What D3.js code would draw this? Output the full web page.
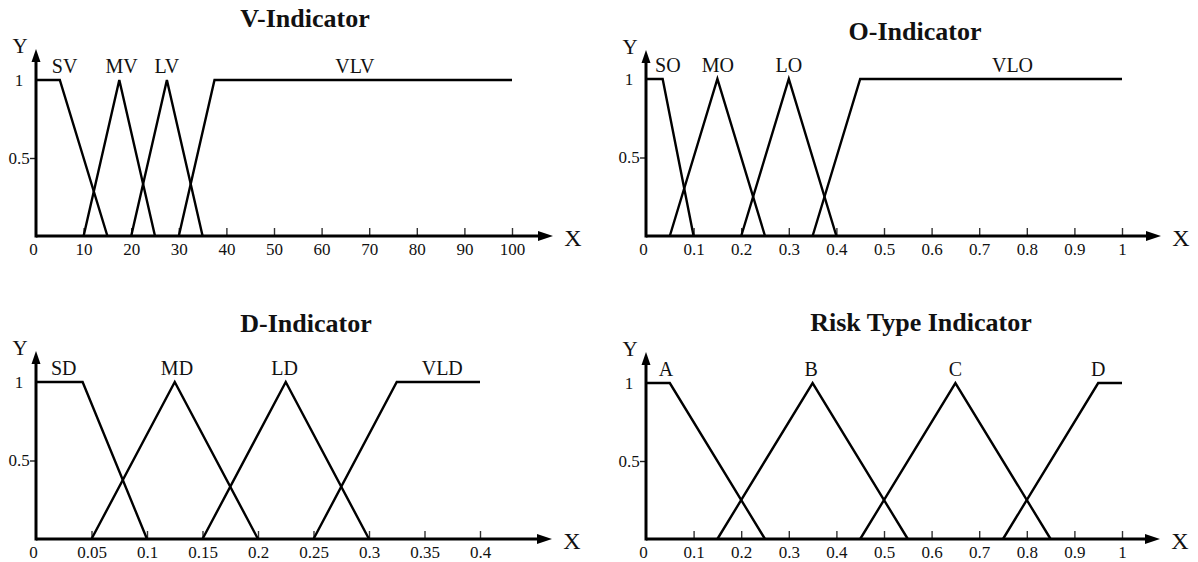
<!DOCTYPE html>
<html>
<head>
<meta charset="utf-8">
<script src="https://cdn.jsdelivr.net/npm/d3@7"></script>
<style>
  body { margin: 0; background: #fff; }
  text { font-family: "Liberation Serif", "Times New Roman", serif; fill: #111; }
</style>
</head>
<body>
<div id="chart"></div>
<script>
// membership functions
var vTicks = [0, 10, 20, 30, 40, 50, 60, 70, 80, 90, 100];
var vNames = ["SV", "MV", "LV", "VLV"];
var vX = [[0, 5, 15], [10, 17.5, 25], [20, 27.5, 35], [30, 37.5, 100]];
var vY = [[1, 1, 0], [0, 1, 0], [0, 1, 0], [0, 1, 1]];
var vLabelAt = [6, 18, 27.5, 67];

var oTicks = [0, 0.1, 0.2, 0.3, 0.4, 0.5, 0.6, 0.7, 0.8, 0.9, 1];
var oNames = ["SO", "MO", "LO", "VLO"];
var oX = [[0, 0.035, 0.1], [0.05, 0.15, 0.25], [0.2, 0.3, 0.4], [0.35, 0.45, 1]];
var oY = [[1, 1, 0], [0, 1, 0], [0, 1, 0], [0, 1, 1]];
var oLabelAt = [0.046, 0.151, 0.3, 0.77];

var dTicks = [0, 0.05, 0.1, 0.15, 0.2, 0.25, 0.3, 0.35, 0.4];
var dNames = ["SD", "MD", "LD", "VLD"];
var dX = [[0, 0.042, 0.1], [0.05, 0.125, 0.2], [0.15, 0.225, 0.3], [0.25, 0.325, 0.4]];
var dY = [[1, 1, 0], [0, 1, 0], [0, 1, 0], [0, 1, 1]];
var dLabelAt = [0.025, 0.127, 0.224, 0.366];

var rTicks = [0, 0.1, 0.2, 0.3, 0.4, 0.5, 0.6, 0.7, 0.8, 0.9, 1];
var rNames = ["A", "B", "C", "D"];
var rX = [[0, 0.05, 0.25], [0.15, 0.35, 0.55], [0.45, 0.65, 0.85], [0.75, 0.95, 1]];
var rY = [[1, 1, 0], [0, 1, 0], [0, 1, 0], [0, 1, 1]];
var rLabelAt = [0.042, 0.347, 0.65, 0.95];

var serif = "Liberation Serif, Times New Roman, serif";

var svg = d3.select("#chart").append("svg")
	.attr("width", 1198)
	.attr("height", 562);

function drawPanel(p) {
	var x = d3.scaleLinear().domain(p.domain).range([p.left, p.right]);
	var y = d3.scaleLinear().domain([0, 1]).range([p.base, p.top1]);
	var g = svg.append("g");

	// title
	g.append("text")
		.attr("x", p.titleX)
		.attr("y", p.titleY)
		.attr("text-anchor", "middle")
		.style("font-size", "26px")
		.style("font-weight", "bold")
		.text(p.title);

	// x ticks + labels
	var xAxis = g.append("g")
		.attr("transform", "translate(0," + p.base + ")")
		.call(d3.axisBottom(x).tickValues(p.ticks).tickSizeInner(-8).tickSizeOuter(0)
			.tickPadding(7).tickFormat(function(d){ return String(d); }))
		.attr("font-family", serif)
		.attr("font-size", 17);
	xAxis.select(".domain").remove();
	xAxis.selectAll(".tick line").attr("stroke", "#333").attr("stroke-width", 1.4)
		.filter(function(d){ return d == 0; }).remove();
	xAxis.selectAll(".tick text")
		.attr("fill", "#222")
		.attr("x", function(d){ return d == 0 ? -3 : 0; });

	// y ticks + labels
	var yAxis = g.append("g")
		.attr("transform", "translate(" + p.left + ",0)")
		.call(d3.axisLeft(y).tickValues([0.5, 1]).tickSize(6).tickFormat(function(d){ return String(d); }))
		.attr("font-family", serif)
		.attr("font-size", 17);
	yAxis.select(".domain").remove();
	yAxis.selectAll(".tick line").attr("stroke", "#222").attr("stroke-width", 1.4)
		.filter(function(d){ return d == 1; }).remove();
	yAxis.selectAll(".tick text")
		.attr("fill", "#222")
		.attr("text-anchor", "middle")
		.attr("x", -17);

	// axis lines with arrows
	g.append("line")
		.attr("x1", p.left).attr("x2", p.arrowX - 12)
		.attr("y1", p.base).attr("y2", p.base)
		.attr("stroke", "#000").attr("stroke-width", 3.2);
	g.append("path")
		.attr("d", "M" + p.arrowX + "," + p.base + "L" + (p.arrowX - 15) + "," + (p.base - 5) +
			"L" + (p.arrowX - 15) + "," + (p.base + 5) + "Z")
		.attr("fill", "#000");
	g.append("line")
		.attr("x1", p.left).attr("x2", p.left)
		.attr("y1", p.base + 1.5).attr("y2", p.arrowY + 10)
		.attr("stroke", "#000").attr("stroke-width", 3);
	g.append("path")
		.attr("d", "M" + p.left + "," + p.arrowY + "L" + (p.left - 4.5) + "," + (p.arrowY + 13) +
			"L" + (p.left + 4.5) + "," + (p.arrowY + 13) + "Z")
		.attr("fill", "#000");

	g.append("text")
		.attr("x", p.arrowX + 20).attr("y", p.base + 10)
		.attr("text-anchor", "middle")
		.style("font-size", "24px")
		.text("X");
	g.append("text")
		.attr("x", p.left - 16).attr("y", p.arrowY + 4)
		.attr("text-anchor", "middle")
		.style("font-size", "21px")
		.text("Y");

	// membership functions
	var line = d3.line()
		.x(function(d){ return x(d[0]); })
		.y(function(d){ return y(d[1]); });
	p.xs.forEach(function(xs, i){
		var pts = xs.map(function(v, j){ return [v, p.ys[i][j]]; });
		g.append("path")
			.attr("d", line(pts))
			.attr("fill", "none")
			.attr("stroke", "#000")
			.attr("stroke-width", 2.4)
			.attr("stroke-linejoin", "miter");
		g.append("text")
			.attr("x", x(p.labelAt[i]))
			.attr("y", y(1) - 7)
			.attr("text-anchor", "middle")
			.style("font-size", "20px")
			.text(p.names[i]);
	});
}

drawPanel({title: "V-Indicator", titleX: 305, titleY: 27, domain: [0, 100], left: 36, right: 512,
	base: 236, top1: 80, arrowX: 553, arrowY: 49, ticks: vTicks, names: vNames, xs: vX, ys: vY, labelAt: vLabelAt});
drawPanel({title: "O-Indicator", titleX: 915, titleY: 40, domain: [0, 1], left: 646, right: 1122,
	base: 236, top1: 79, arrowX: 1161, arrowY: 50, ticks: oTicks, names: oNames, xs: oX, ys: oY, labelAt: oLabelAt});
drawPanel({title: "D-Indicator", titleX: 306, titleY: 332, domain: [0, 0.4], left: 36, right: 480,
	base: 539, top1: 382, arrowX: 552, arrowY: 351, ticks: dTicks, names: dNames, xs: dX, ys: dY, labelAt: dLabelAt});
drawPanel({title: "Risk Type Indicator", titleX: 921, titleY: 331, domain: [0, 1], left: 646, right: 1122,
	base: 539, top1: 383, arrowX: 1160, arrowY: 352, ticks: rTicks, names: rNames, xs: rX, ys: rY, labelAt: rLabelAt});
</script>
</body>
</html>
